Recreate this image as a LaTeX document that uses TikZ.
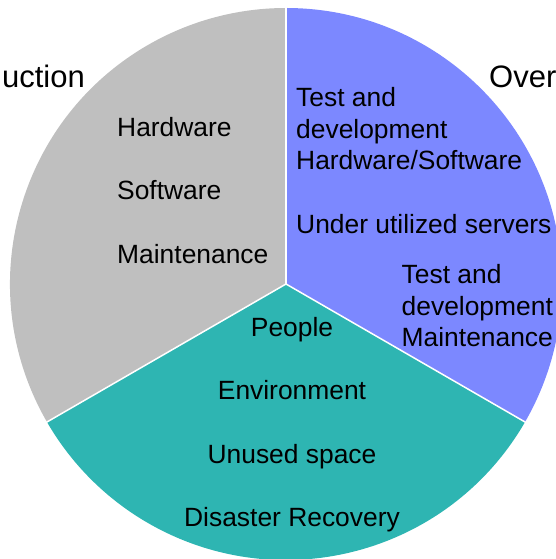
\documentclass[tikz,border=0pt]{standalone}
\usepackage{fontspec}
\setmainfont{Liberation Sans}
\definecolor{piegray}{RGB}{191,191,191}
\definecolor{pieblue}{RGB}{124,136,255}
\definecolor{pieteal}{RGB}{46,181,178}
\begin{document}
\begin{tikzpicture}[x=1pt,y=1pt,
  sector/.style={draw=white,line width=1.5pt,line join=round},
  body/.style={inner sep=0pt,font=\fontsize{26.4}{31.7}\selectfont,text=black},
  label/.style={inner sep=0pt,font=\fontsize{31}{36}\selectfont,text=black}]
\useasboundingbox (0,0) rectangle (555,559);
\coordinate (c) at (286,275);
\fill[piegray] (c) -- ++(210:276) arc[start angle=210,end angle=90,radius=276] -- cycle;
\fill[pieblue] (c) -- ++(90:276) arc[start angle=90,end angle=-30,radius=276] -- cycle;
\fill[pieteal] (c) -- ++(-30:276) arc[start angle=-30,end angle=-150,radius=276] -- cycle;
\draw[sector] (c) -- ++(90:277);
\draw[sector] (c) -- ++(-30:277);
\draw[sector] (c) -- ++(210:277);
% labels
\node[label,anchor=base east] (prod) at (85,471.5) {Production};
\node[label,anchor=base west] (over) at (489,471) {Overhead};
% gray sector
\node[body,anchor=base west] (g1) at (117,422.5) {Hardware};
\node[body,anchor=base west] (g2) at (117,359.1) {Software};
\node[body,anchor=base west] (g3) at (117,295.7) {Maintenance};
% blue sector
\node[body,anchor=base west] (b1) at (296,452.5) {Test and};
\node[body,anchor=base west] (b2) at (296,420.8) {development};
\node[body,anchor=base west] (b3) at (296,389.1) {Hardware/Software};
\node[body,anchor=base west] (b4) at (296,325.7) {Under utilized servers};
\node[body,anchor=base west] (b5) at (401.5,275.5) {Test and};
\node[body,anchor=base west] (b6) at (401.5,243.8) {development};
\node[body,anchor=base west] (b7) at (401.5,212.1) {Maintenance};
% teal sector
\node[body,anchor=base] (t1) at (292,222.5) {People};
\node[body,anchor=base] (t2) at (292,159.1) {Environment};
\node[body,anchor=base] (t3) at (292,95.7) {Unused space};
\node[body,anchor=base] (t4) at (292,32.3) {Disaster Recovery};
\end{tikzpicture}
\end{document}
